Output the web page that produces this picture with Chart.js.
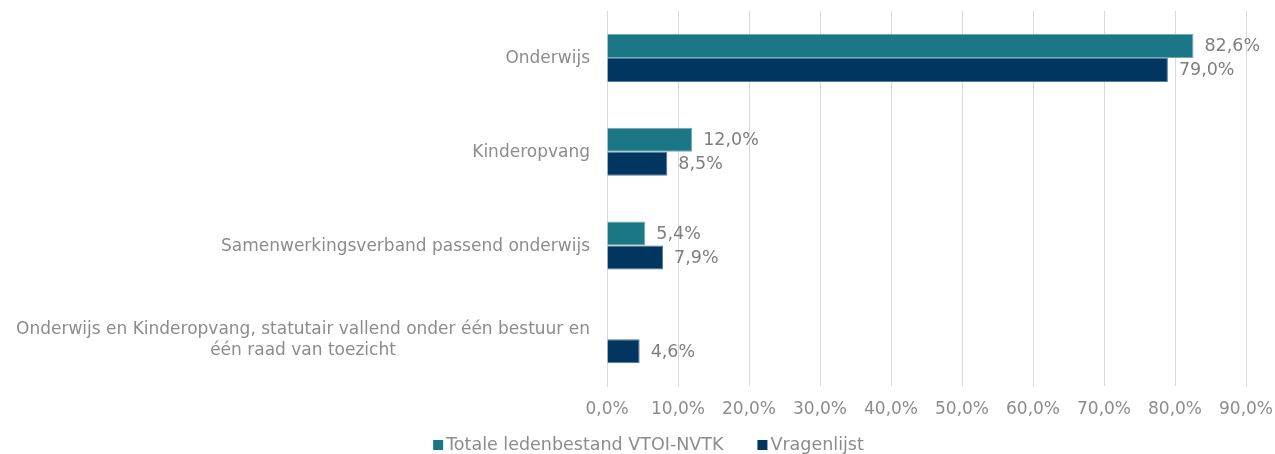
<!DOCTYPE html>
<html>
<head>
<meta charset="utf-8">
<script src="https://cdn.jsdelivr.net/npm/chart.js@4/dist/chart.umd.min.js"></script>
<style>
  html, body { margin: 0; padding: 0; background: #ffffff; }
  #wrap { width: 1275px; height: 454px; position: relative; }
</style>
</head>
<body>
<div id="wrap"><canvas id="c" width="1275" height="454"></canvas></div>
<script>
const categories = [
  ["Onderwijs"],
  ["Kinderopvang"],
  ["Samenwerkingsverband passend onderwijs"],
  ["Onderwijs en Kinderopvang, statutair vallend onder één bestuur en", "één raad van toezicht"]
];
const seriesNames = ["Totale ledenbestand VTOI-NVTK", "Vragenlijst"];
const totaleLedenbestand = [82.6, 12.0, 5.4, null];
const vragenlijst = [79.0, 8.5, 7.9, 4.6];
const xTicks = [0, 10, 20, 30, 40, 50, 60, 70, 80, 90];
const seriesColors = ["#1b7686", "#003660"];
const seriesBorders = ["#6fa9b5", "#4d7ba0"];

const FONT = 'Verdana, "DejaVu Sans", sans-serif';
const GRAY = '#8c8c8c';
const LABEL_GRAY = '#7f7f7f';
const fmt = v => v.toFixed(1).replace('.', ',') + '%';

const categoryLabelsPlugin = {
  id: 'categoryLabels',
  afterDraw(chart) {
    const ctx = chart.ctx;
    const y = chart.scales.y;
    ctx.save();
    ctx.font = '17px ' + FONT;
    ctx.fillStyle = GRAY;
    ctx.textBaseline = 'middle';
    ctx.textAlign = 'center';
    const lineH = 21;
    const right = 590;
    categories.forEach((lines, i) => {
      const cy = y.getPixelForValue(i) + 1;
      const maxW = Math.max(...lines.map(l => ctx.measureText(l).width));
      const cx = right - maxW / 2;
      const top = cy - (lines.length - 1) * lineH / 2;
      lines.forEach((l, j) => ctx.fillText(l, cx, top + j * lineH));
    });
    ctx.restore();
  }
};

const dataLabelsPlugin = {
  id: 'dataLabelsCustom',
  afterDatasetsDraw(chart) {
    const ctx = chart.ctx;
    ctx.save();
    ctx.font = '17.5px ' + FONT;
    ctx.fillStyle = LABEL_GRAY;
    ctx.textBaseline = 'middle';
    ctx.textAlign = 'left';
    chart.data.datasets.forEach((ds, di) => {
      const meta = chart.getDatasetMeta(di);
      meta.data.forEach((bar, i) => {
        const v = ds.data[i];
        if (v === null || v === undefined) return;
        ctx.fillText(fmt(v), bar.x + 11, bar.y + 1);
      });
    });
    ctx.restore();
  }
};

const legendPlugin = {
  id: 'customLegend',
  afterDraw(chart) {
    const ctx = chart.ctx;
    ctx.save();
    ctx.font = '17.5px ' + FONT;
    ctx.textBaseline = 'middle';
    ctx.textAlign = 'left';
    const box = 10, gap = 3, itemGap = 34;
    const widths = seriesNames.map(n => box + gap + ctx.measureText(n).width);
    const total = widths.reduce((a, b) => a + b, 0) + itemGap * (seriesNames.length - 1);
    let x = (chart.width - total) / 2 + 11;
    const cy = 445;
    seriesNames.forEach((n, i) => {
      ctx.fillStyle = seriesColors[i];
      ctx.fillRect(x, cy - box / 2, box, box);
      ctx.fillStyle = GRAY;
      ctx.fillText(n, x + box + gap, cy);
      x += widths[i] + itemGap;
    });
    ctx.restore();
  }
};

new Chart(document.getElementById('c'), {
  type: 'bar',
  data: {
    labels: categories,
    datasets: [
      {
        label: seriesNames[0],
        data: totaleLedenbestand,
        backgroundColor: seriesColors[0],
        borderColor: seriesBorders[0],
        borderWidth: 1,
        categoryPercentage: 0.512,
        barPercentage: 1.0
      },
      {
        label: seriesNames[1],
        data: vragenlijst,
        backgroundColor: seriesColors[1],
        borderColor: seriesBorders[1],
        borderWidth: 1,
        categoryPercentage: 0.512,
        barPercentage: 1.0
      }
    ]
  },
  options: {
    indexAxis: 'y',
    responsive: false,
    animation: false,
    devicePixelRatio: 1,
    layout: { padding: { top: 11, right: 29, bottom: 0, left: 0 } },
    plugins: {
      legend: { display: false },
      tooltip: { enabled: false }
    },
    scales: {
      x: {
        min: 0,
        max: 90,
        afterBuildTicks(scale) { scale.ticks = xTicks.map(v => ({ value: v })); },
        afterFit(scale) {
          scale.height = 68;
          scale.paddingLeft = 0;
          scale.paddingRight = 0;
        },
        grid: { color: '#d9d9d9', lineWidth: 1, drawTicks: false },
        border: { display: false },
        ticks: {
          padding: 13,
          color: GRAY,
          font: { family: FONT, size: 17 },
          callback: v => fmt(v)
        }
      },
      y: {
        afterFit(scale) { scale.width = 607; },
        grid: { display: false, drawTicks: false },
        border: { display: true, color: '#d9d9d9', width: 1 },
        ticks: { display: false }
      }
    }
  },
  plugins: [categoryLabelsPlugin, dataLabelsPlugin, legendPlugin]
});
</script>
</body>
</html>
